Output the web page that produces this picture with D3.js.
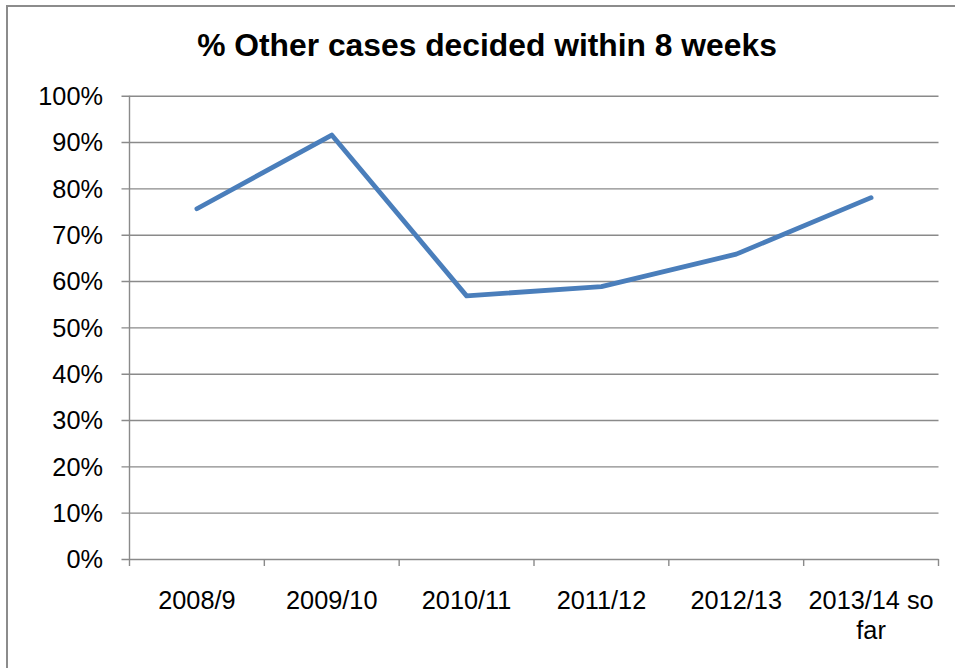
<!DOCTYPE html>
<html>
<head>
<meta charset="utf-8">
<script src="https://cdn.jsdelivr.net/npm/d3@7/dist/d3.min.js"></script>
<style>
  html, body { margin: 0; padding: 0; background: #fff; }
  svg { display: block; font-family: "Liberation Sans", Arial, sans-serif; }
</style>
</head>
<body>
<svg id="chart" width="955" height="668"></svg>
<script>
// Share of "Other" planning cases decided within 8 weeks, by year
const categories = ["2008/9", "2009/10", "2010/11", "2011/12", "2012/13", "2013/14 so far"];
const values = [0.756, 0.915, 0.568, 0.588, 0.658, 0.780];
const yTicks = [0, 0.1, 0.2, 0.3, 0.4, 0.5, 0.6, 0.7, 0.8, 0.9, 1.0];
const chartTitle = "% Other cases decided within 8 weeks";

const svg = d3.select("#chart");
const W = 955, H = 668;
const margin = { left: 129.5, right: 16.5, top: 95.7, bottom: 109 };
const innerW = W - margin.left - margin.right;
const innerH = H - margin.top - margin.bottom;

const gridColor = "#8a8a8a";
const lineColor = "#4a7ebb";

// Outer chart frame (runs off the right and bottom edges)
svg.append("rect")
  .attr("x", 7).attr("y", 6)
  .attr("width", W + 10).attr("height", H + 10)
  .attr("fill", "none")
  .attr("stroke", "#8c8c8c")
  .attr("stroke-width", 2);

// Title
svg.append("text")
  .attr("x", 487).attr("y", 56)
  .attr("text-anchor", "middle")
  .attr("font-weight", "bold")
  .attr("font-size", "31.8px")
  .attr("fill", "#000")
  .text(chartTitle);

const g = svg.append("g").attr("transform", `translate(${margin.left},${margin.top})`);

const x = d3.scaleBand().domain(categories).range([0, innerW]).paddingInner(0).paddingOuter(0);
const y = d3.scaleLinear().domain([0, 1]).range([innerH, 0]);

// Horizontal gridlines with outward ticks
const yAxis = d3.axisLeft(y)
  .tickValues(yTicks)
  .tickSize(-innerW)
  .tickPadding(0)
  .tickFormat(d3.format(".0%"));

const yg = g.append("g").call(yAxis);
yg.select(".domain").remove();
yg.selectAll(".tick line")
  .attr("x1", -8)
  .attr("stroke", gridColor)
  .attr("stroke-width", 1.4);
yg.selectAll(".tick text")
  .attr("x", -26.5)
  .attr("dy", "0.35em")
  .attr("font-size", "25.3px")
  .attr("font-family", "\"Liberation Sans\", Arial, sans-serif")
  .attr("fill", "#000");

// Vertical axis line
g.append("line")
  .attr("x1", 0).attr("x2", 0)
  .attr("y1", 0).attr("y2", innerH + 7)
  .attr("stroke", gridColor)
  .attr("stroke-width", 1.4);

// Category ticks at band boundaries along the bottom
const boundaries = categories.map(c => x(c) + x.bandwidth());
g.selectAll(".xtick")
  .data(boundaries)
  .join("line")
  .attr("class", "xtick")
  .attr("x1", d => d).attr("x2", d => d)
  .attr("y1", innerH).attr("y2", innerH + 7)
  .attr("stroke", gridColor)
  .attr("stroke-width", 1.4);

// Category labels (wrapped onto a second line where needed)
const wrapped = {
  "2013/14 so far": ["2013/14 so", "far"]
};
const xl = g.selectAll(".xlabel")
  .data(categories)
  .join("text")
  .attr("class", "xlabel")
  .attr("text-anchor", "middle")
  .attr("font-size", "25.3px")
  .attr("fill", "#000")
  .attr("transform", d => `translate(${x(d) + x.bandwidth() / 2},${innerH + 50})`);
xl.each(function (d) {
  const lines = wrapped[d] || [d];
  const t = d3.select(this);
  lines.forEach((ln, i) => {
    t.append("tspan").attr("x", 0).attr("dy", i === 0 ? 0 : 29.5).text(ln);
  });
});

// Series line
const line = d3.line()
  .x((d, i) => x(categories[i]) + x.bandwidth() / 2)
  .y(d => y(d));

g.append("path")
  .datum(values)
  .attr("d", line)
  .attr("fill", "none")
  .attr("stroke", lineColor)
  .attr("stroke-width", 4.8)
  .attr("stroke-linejoin", "round")
  .attr("stroke-linecap", "round");
</script>
</body>
</html>
